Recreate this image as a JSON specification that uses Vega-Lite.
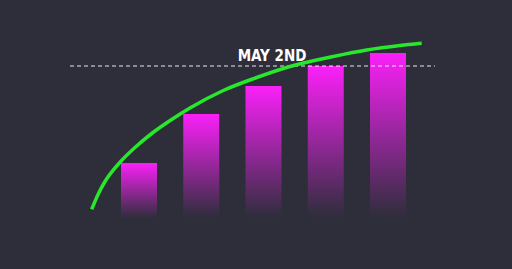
{
  "$schema": "https://vega.github.io/schema/vega-lite/v6.json",
  "width": 512,
  "height": 269,
  "autosize": "none",
  "padding": 0,
  "background": "#2d2e3a",
  "config": {"view": {"stroke": null}},
  "datasets": {
    "bars": [
      {"day": 1, "value": 55},
      {"day": 2, "value": 104},
      {"day": 3, "value": 132},
      {"day": 4, "value": 152},
      {"day": 5, "value": 165}
    ],
    "trend": [
      {"day": 0.240, "value": 8.7},
      {"day": 0.346, "value": 24},
      {"day": 0.454, "value": 36.5},
      {"day": 0.706, "value": 56.5},
      {"day": 0.936, "value": 70.5},
      {"day": 1.204, "value": 84.5},
      {"day": 1.525, "value": 98.5},
      {"day": 1.819, "value": 110},
      {"day": 2.354, "value": 127.5},
      {"day": 2.891, "value": 140.5},
      {"day": 3.426, "value": 151.5},
      {"day": 4.121, "value": 161.5},
      {"day": 4.658, "value": 168},
      {"day": 5.193, "value": 172.5},
      {"day": 5.541, "value": 174.7}
    ],
    "marker": [
      {"start": -0.108, "end": 5.755, "mid": 3.137, "value": 152, "label": "MAY 2ND"}
    ]
  },
  "layer": [
    {
      "data": {"name": "bars"},
      "mark": {
        "type": "bar",
        "width": 36,
        "color": {
          "gradient": "linear",
          "x1": 0, "y1": 0, "x2": 0, "y2": 1,
          "stops": [
            {"offset": 0, "color": "#fb20f9"},
            {"offset": 1, "color": "#2d2e3a"}
          ]
        }
      },
      "encoding": {
        "x": {"field": "day", "type": "quantitative", "scale": {"domain": [-1.233, 6.992], "nice": false, "zero": false, "padding": 0}, "axis": null},
        "y": {"field": "value", "type": "quantitative", "scale": {"domain": [-51, 218], "nice": false, "padding": 0}, "axis": null}
      }
    },
    {
      "data": {"name": "marker"},
      "mark": {"type": "rule", "color": "#ffffff", "opacity": 0.6, "strokeWidth": 1.5, "strokeDash": [4, 3]},
      "encoding": {
        "x": {"field": "start", "type": "quantitative", "scale": {"domain": [-1.233, 6.992], "nice": false, "zero": false, "padding": 0}, "axis": null},
        "x2": {"field": "end"},
        "y": {"field": "value", "type": "quantitative", "scale": {"domain": [-51, 218], "nice": false, "padding": 0}, "axis": null}
      }
    },
    {
      "data": {"name": "trend"},
      "mark": {"type": "line", "interpolate": "monotone", "color": "#27e82b", "strokeWidth": 3.5},
      "encoding": {
        "x": {"field": "day", "type": "quantitative", "scale": {"domain": [-1.233, 6.992], "nice": false, "zero": false, "padding": 0}, "axis": null},
        "y": {"field": "value", "type": "quantitative", "scale": {"domain": [-51, 218], "nice": false, "padding": 0}, "axis": null}
      }
    },
    {
      "data": {"name": "marker"},
      "mark": {"type": "text", "color": "#ffffff", "font": "DejaVu Sans Condensed, sans-serif", "fontWeight": "bold", "fontSize": 15, "baseline": "alphabetic", "align": "center", "dy": -5.5},
      "encoding": {
        "x": {"field": "mid", "type": "quantitative", "scale": {"domain": [-1.233, 6.992], "nice": false, "zero": false, "padding": 0}, "axis": null},
        "y": {"field": "value", "type": "quantitative", "scale": {"domain": [-51, 218], "nice": false, "padding": 0}, "axis": null},
        "text": {"field": "label"}
      }
    }
  ]
}
